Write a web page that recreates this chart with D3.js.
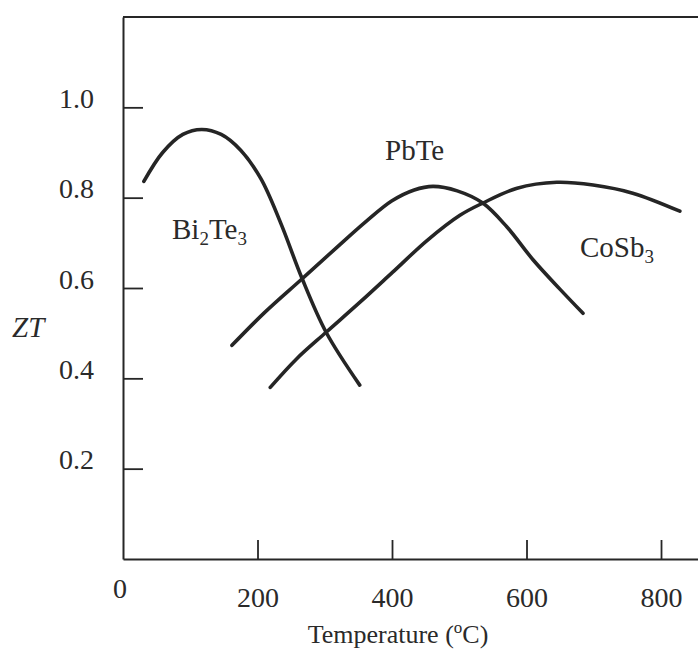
<!DOCTYPE html>
<html>
<head>
<meta charset="utf-8">
<script src="https://cdn.jsdelivr.net/npm/d3@7"></script>
<style>
  html, body { margin: 0; padding: 0; background: #fff; }
  svg { display: block; }
  text { font-family: "Liberation Serif", "Times New Roman", serif; fill: #2a2a2a; }
</style>
</head>
<body>
<svg id="chart" width="698" height="652"></svg>
<script>
// ZT versus temperature for three thermoelectric materials
const xTicks = [200, 400, 600, 800];
const yTicks = [0.2, 0.4, 0.6, 0.8, 1.0];

const bi2te3T  = [31, 59, 89, 117, 146, 175, 205, 235, 266, 302, 352];
const bi2te3ZT = [0.836, 0.900, 0.940, 0.951, 0.940, 0.905, 0.842, 0.742, 0.622, 0.502, 0.385];

const pbteT  = [162, 210, 266, 318, 362, 400, 433, 461, 497, 535, 571, 610, 650, 684];
const pbteZT = [0.473, 0.545, 0.620, 0.690, 0.748, 0.793, 0.817, 0.825, 0.815, 0.788, 0.735, 0.662, 0.597, 0.544];

const cosb3T  = [219, 258, 302, 352, 401, 452, 501, 535, 586, 645, 699, 758, 828];
const cosb3ZT = [0.380, 0.443, 0.502, 0.568, 0.635, 0.705, 0.761, 0.788, 0.821, 0.834, 0.828, 0.810, 0.770];

const svg = d3.select("#chart");
const plotLeft = 123, plotRight = 698, plotTop = 17, plotBottom = 559;
const ink = "#262626";
const tickFont = 28, labelFont = 29;

const x = d3.scaleLinear().domain([0, 855]).range([plotLeft, plotRight]);
const y = d3.scaleLinear().domain([0, 1.2]).range([plotBottom, plotTop]);

// Frame: top border
svg.append("line")
  .attr("x1", plotLeft).attr("x2", plotRight).attr("y1", plotTop).attr("y2", plotTop)
  .attr("stroke", ink).attr("stroke-width", 2);

// Left axis with inward ticks
const yAxis = svg.append("g")
  .attr("transform", `translate(${plotLeft},0)`)
  .call(d3.axisLeft(y).tickValues(yTicks).tickFormat(d3.format(".1f"))
    .tickSize(-20).tickSizeOuter(0).tickPadding(29));
yAxis.select(".domain").attr("stroke", ink).attr("stroke-width", 2);
yAxis.selectAll(".tick line").attr("stroke", ink).attr("stroke-width", 1.8);
yAxis.selectAll(".tick text").attr("dy", "0").attr("font-size", tickFont)
  .attr("font-family", "Liberation Serif").attr("fill", "#2a2a2a");

// Bottom axis with inward ticks
const xAxis = svg.append("g")
  .attr("transform", `translate(0,${plotBottom})`)
  .call(d3.axisBottom(x).tickValues(xTicks).tickFormat(d3.format("d"))
    .tickSize(-19).tickSizeOuter(0).tickPadding(48));
xAxis.select(".domain").attr("stroke", ink).attr("stroke-width", 2);
xAxis.selectAll(".tick line").attr("stroke", ink).attr("stroke-width", 1.8);
xAxis.selectAll(".tick text").attr("dy", "0").attr("font-size", tickFont)
  .attr("font-family", "Liberation Serif").attr("fill", "#2a2a2a");

// Origin label
svg.append("text")
  .attr("x", x(0) - 3).attr("y", 598)
  .attr("text-anchor", "middle").attr("font-size", tickFont)
  .text("0");

// Axis titles
const xt = svg.append("text")
  .attr("x", 398).attr("y", 643)
  .attr("text-anchor", "middle").attr("font-size", 26);
xt.append("tspan").text("Temperature (");
xt.append("tspan").attr("font-size", 17).attr("dy", -10).text("o");
xt.append("tspan").attr("dy", 10).text("C)");

svg.append("text")
  .attr("x", 12).attr("y", 337)
  .attr("font-size", labelFont).attr("font-style", "italic")
  .text("ZT");

// Curves
const line = d3.line()
  .x(d => x(d[0])).y(d => y(d[1]))
  .curve(d3.curveCatmullRom.alpha(0.5));

const series = [
  { name: "Bi2Te3", t: bi2te3T, zt: bi2te3ZT },
  { name: "PbTe",   t: pbteT,   zt: pbteZT },
  { name: "CoSb3",  t: cosb3T,  zt: cosb3ZT }
];

svg.append("g").selectAll("path")
  .data(series)
  .join("path")
  .attr("d", s => line(s.t.map((t, i) => [t, s.zt[i]])))
  .attr("fill", "none")
  .attr("stroke", "#252525")
  .attr("stroke-width", 3.6)
  .attr("stroke-linecap", "round")
  .attr("stroke-linejoin", "round");

// Curve labels
function chemLabel(xp, yp, parts) {
  const t = svg.append("text").attr("x", xp).attr("y", yp).attr("font-size", labelFont);
  let shift = 0;
  parts.forEach(p => {
    const target = p.sub ? 6 : 0;
    const ts = t.append("tspan").attr("dy", target - shift).text(p.s);
    if (p.sub) ts.attr("font-size", 19);
    shift = target;
  });
}
chemLabel(172, 239, [{ s: "Bi" }, { s: "2", sub: true }, { s: "Te" }, { s: "3", sub: true }]);
chemLabel(385, 160, [{ s: "PbTe" }]);
chemLabel(580, 257, [{ s: "CoSb" }, { s: "3", sub: true }]);
</script>
</body>
</html>
